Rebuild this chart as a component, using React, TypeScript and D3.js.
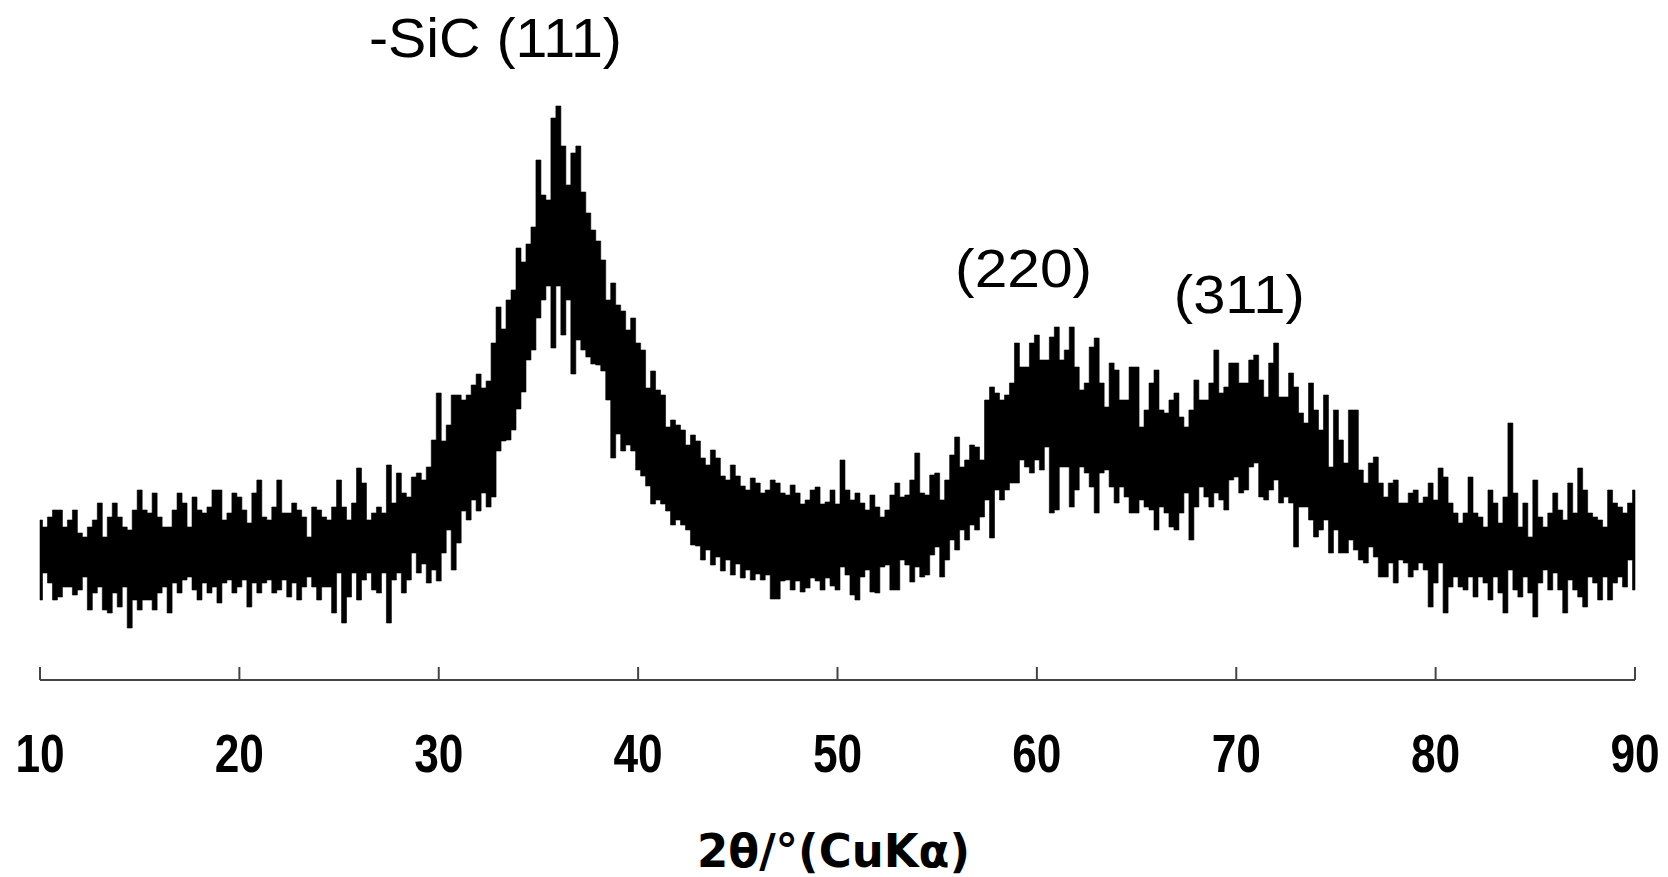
import React from "react";
import * as d3 from "d3";

// XRD pattern, 2θ from 10° to 90° in 0.25° steps (intensity, a.u.)
const startAngle = 10;
const stepAngle = 0.25;

// upper edge of the noisy trace
const upper = [
  160, 153, 163, 170, 170, 153, 160, 170, 147, 143, 153, 160, 177, 143, 163, 177, 163, 153, 150, 170,
  190, 170, 167, 187, 163, 153, 153, 170, 187, 177, 153, 183, 170, 167, 173, 190, 190, 160, 167, 187,
  183, 170, 157, 187, 200, 163, 160, 173, 200, 167, 167, 177, 170, 163, 143, 173, 170, 163, 160, 173,
  200, 173, 160, 177, 212, 197, 160, 167, 173, 167, 215, 177, 207, 187, 183, 203, 207, 200, 213, 240,
  287, 239, 255, 285, 285, 280, 285, 295, 306, 292, 299, 337, 373, 351, 380, 390, 432, 418, 436, 453,
  520, 485, 480, 562, 574, 534, 495, 527, 534, 488, 467, 450, 439, 420, 380, 397, 375, 369, 350, 362,
  337, 330, 292, 309, 290, 285, 253, 260, 255, 250, 235, 245, 239, 222, 215, 230, 222, 204, 200, 215,
  204, 194, 190, 202, 197, 187, 190, 200, 197, 187, 185, 195, 187, 176, 180, 190, 193, 176, 178, 190,
  176, 220, 190, 180, 187, 177, 170, 185, 173, 163, 170, 185, 197, 183, 185, 200, 227, 187, 185, 205,
  207, 180, 200, 225, 243, 213, 220, 235, 233, 220, 280, 293, 287, 280, 285, 297, 337, 313, 313, 337,
  345, 320, 320, 343, 353, 320, 330, 353, 313, 290, 297, 333, 342, 297, 273, 317, 310, 280, 280, 313,
  313, 253, 270, 297, 310, 270, 267, 280, 287, 263, 253, 270, 300, 280, 280, 297, 330, 287, 293, 317,
  317, 297, 297, 320, 325, 300, 283, 317, 337, 283, 283, 307, 293, 267, 257, 297, 270, 250, 285, 213,
  270, 240, 217, 270, 270, 210, 197, 217, 223, 197, 183, 197, 200, 177, 177, 187, 190, 177, 183, 197,
  180, 212, 203, 177, 167, 157, 167, 203, 167, 163, 153, 190, 177, 157, 183, 257, 187, 153, 177, 143,
  200, 163, 153, 167, 187, 170, 160, 197, 167, 212, 190, 167, 163, 160, 153, 190, 177, 173, 167, 177,
  190,
];

// lower edge of the noisy trace
const lower = [
  80, 107, 97, 80, 83, 93, 93, 85, 90, 103, 70, 87, 93, 70, 67, 87, 73, 93, 52, 80,
  70, 80, 80, 70, 87, 93, 67, 97, 87, 100, 103, 90, 80, 97, 87, 93, 77, 97, 100, 87,
  93, 100, 73, 97, 87, 97, 100, 87, 90, 100, 83, 97, 80, 93, 103, 93, 80, 93, 93, 67,
  107, 57, 83, 107, 80, 100, 107, 90, 87, 107, 57, 100, 107, 87, 100, 127, 107, 116, 97, 110,
  99, 127, 150, 110, 137, 169, 160, 180, 169, 187, 173, 183, 229, 239, 240, 250, 271, 288, 320, 330,
  362, 380, 394, 332, 394, 345, 380, 306, 340, 330, 323, 316, 315, 309, 280, 222, 246, 229, 235, 229,
  210, 204, 194, 176, 180, 176, 169, 155, 160, 155, 150, 135, 134, 120, 130, 115, 123, 109, 120, 105,
  116, 102, 110, 100, 106, 100, 105, 81, 81, 99, 100, 90, 99, 88, 92, 102, 99, 90, 102, 94,
  90, 113, 105, 85, 80, 103, 110, 88, 87, 113, 115, 90, 90, 120, 115, 98, 113, 103, 105, 125,
  133, 103, 120, 140, 130, 150, 140, 155, 150, 163, 180, 142, 190, 180, 190, 197, 197, 220, 213, 207,
  220, 210, 233, 167, 170, 213, 213, 173, 190, 213, 207, 193, 167, 207, 210, 193, 177, 193, 183, 167,
  167, 180, 173, 170, 150, 173, 167, 153, 150, 167, 187, 140, 173, 193, 183, 173, 187, 180, 170, 200,
  203, 187, 190, 213, 217, 183, 180, 190, 200, 177, 183, 177, 133, 173, 173, 160, 143, 150, 160, 127,
  150, 127, 127, 140, 130, 120, 117, 133, 123, 103, 103, 117, 97, 120, 117, 103, 110, 117, 110, 73,
  97, 117, 67, 93, 103, 93, 90, 103, 83, 103, 97, 80, 103, 87, 67, 110, 90, 83, 103, 87,
  63, 97, 110, 90, 107, 90, 67, 100, 90, 83, 73, 103, 97, 80, 103, 80, 97, 103, 93, 120,
  90,
];

const xTicks = [10, 20, 30, 40, 50, 60, 70, 80, 90];

// peak labels: left edge angle, baseline intensity
const peakLabels = [
  { text: "-SiC (111)", angle: 26.5, intensity: 623, size: 56, width: 253 },
  { text: "(220)", angle: 55.9, intensity: 393, size: 54, width: 137 },
  { text: "(311)", angle: 66.87, intensity: 367, size: 54, width: 131 },
];

const W = 1668;
const H = 877;

export default function App() {
  const x = d3.scaleLinear().domain([10, 90]).range([40, 1635]);
  const y = d3.scaleLinear().domain([0, 600]).range([680, 80]);

  const rows = upper.map((hi, i) => ({
    angle: startAngle + i * stepAngle,
    hi,
    lo: lower[i],
  }));

  const band = d3
    .area<{ angle: number; hi: number; lo: number }>()
    .x((d) => x(d.angle))
    .y0((d) => y(d.lo))
    .y1((d) => y(d.hi))
    .curve(d3.curveStep);

  const axisY = y(0);

  return (
    <svg
      width={W}
      height={H}
      style={{ position: "absolute", left: 0, top: 0, background: "#fff" }}
    >
      <path d={band(rows) ?? ""} fill="#000" stroke="#000" strokeWidth={0.6} />

      {/* x axis */}
      <line x1={x(10)} x2={x(90)} y1={axisY} y2={axisY} stroke="#444" strokeWidth={2} />
      {xTicks.map((t) => (
        <g key={t}>
          <line x1={x(t)} x2={x(t)} y1={axisY} y2={axisY - 13} stroke="#444" strokeWidth={2} />
          <text
            transform={`translate(${x(t)},772) scale(0.82,1)`}
            textAnchor="middle"
            fontFamily="'Liberation Sans', Arial, sans-serif"
            fontWeight="bold"
            fontSize={54}
            fill="#000"
          >
            {t}
          </text>
        </g>
      ))}

      <text
        x={697}
        y={867}
        textLength={273}
        lengthAdjust="spacingAndGlyphs"
        fontFamily="'DejaVu Sans', sans-serif"
        fontWeight="bold"
        fontSize={47}
        fill="#000"
      >
        2θ/°(CuKα)
      </text>

      {peakLabels.map((p) => (
        <text
          key={p.text}
          x={x(p.angle)}
          y={y(p.intensity)}
          textLength={p.width}
          lengthAdjust="spacingAndGlyphs"
          fontFamily="'Liberation Sans', Arial, sans-serif"
          fontSize={p.size}
          fill="#000"
        >
          {p.text}
        </text>
      ))}
    </svg>
  );
}
